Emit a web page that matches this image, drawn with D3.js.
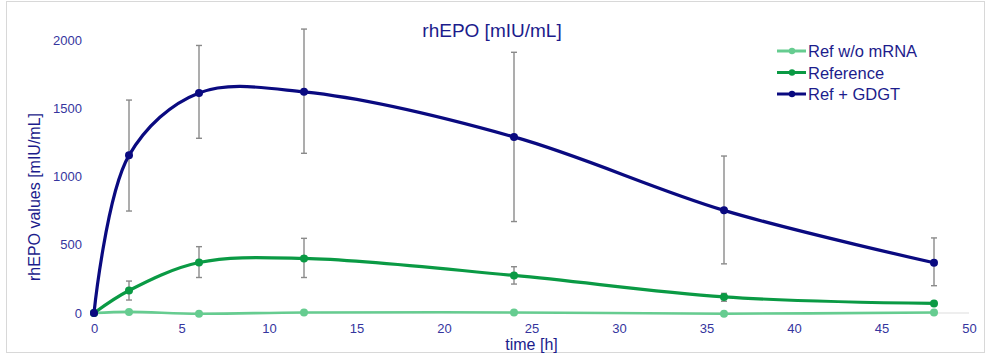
<!DOCTYPE html>
<html>
<head>
<meta charset="utf-8">
<script src="https://cdn.jsdelivr.net/npm/d3@7"></script>
<style>
  body { margin: 0; background: #fff; }
  text { font-family: "Liberation Sans", Arial, sans-serif; }
</style>
</head>
<body>
<div id="chart"></div>
<script>
// time points (h)
var times = [0, 2, 6, 12, 24, 36, 48];
var seriesNames = ["Ref w/o mRNA", "Reference", "Ref + GDGT"];
var noMrna = [0, 8, -5, 4, 4, -5, 4];
var reference = [0, 165, 370, 400, 275, 118, 70];
var refLow = [null, 95, 260, 260, 212, 86, null];
var refHigh = [null, 234, 486, 547, 339, 144, null];
var gdgt = [0, 1155, 1612, 1620, 1290, 752, 368];
var gdgtLow = [null, 747, 1280, 1170, 670, 360, 200];
var gdgtHigh = [null, 1560, 1960, 2080, 1910, 1150, 550];
var xTicks = [0, 5, 10, 15, 20, 25, 30, 35, 40, 45, 50];
var yTicks = [0, 500, 1000, 1500, 2000];

var colors = ["#66cc90", "#0a9a44", "#0a0a80"];
var svgWidth = 987, svgHeight = 360;
var margin = { top: 40, right: 18, bottom: 47, left: 94 };
var width = svgWidth - margin.left - margin.right;
var height = svgHeight - margin.top - margin.bottom;

var svg = d3.select("#chart").append("svg")
  .attr("width", svgWidth)
  .attr("height", svgHeight);

// outer frame
svg.append("rect")
  .attr("x", 6.5).attr("y", 1.5)
  .attr("width", 978).attr("height", 351)
  .attr("fill", "none")
  .attr("stroke", "#d8d8d8");

var x = d3.scaleLinear().domain([0, 50]).range([0, width]);
var y = d3.scaleLinear().domain([0, 2000]).range([height, 0]);

var g = svg.append("g")
  .attr("transform", "translate(" + margin.left + "," + margin.top + ")");

// baseline
g.append("line")
  .attr("x1", x(0)).attr("x2", x(50))
  .attr("y1", y(0)).attr("y2", y(0))
  .attr("stroke", "#dddddd");

// axis-x
var xAxis = g.append("g")
  .attr("transform", "translate(0," + height + ")")
  .call(d3.axisBottom(x).tickValues(xTicks).tickSize(0).tickPadding(11));
xAxis.select(".domain").remove();

// axis-y
var yAxis = g.append("g")
  .call(d3.axisLeft(y).tickValues(yTicks).tickFormat(d3.format("d")).tickSize(0).tickPadding(12));
yAxis.select(".domain").remove();

g.selectAll(".tick text")
  .attr("font-size", "13px")
  .attr("fill", "#35359e")
  .attr("font-family", "Liberation Sans, Arial, sans-serif");

// titles
svg.append("text")
  .attr("x", 492).attr("y", 37)
  .attr("text-anchor", "middle")
  .attr("font-size", "19px")
  .attr("fill", "#1c1c8c")
  .text("rhEPO [mIU/mL]");

svg.append("text")
  .attr("x", margin.left + width / 2).attr("y", 350)
  .attr("text-anchor", "middle")
  .attr("font-size", "16px")
  .attr("fill", "#1c1c8c")
  .text("time [h]");

svg.append("text")
  .attr("transform", "translate(40,197) rotate(-90)")
  .attr("text-anchor", "middle")
  .attr("font-size", "16px")
  .attr("fill", "#1c1c8c")
  .text("rhEPO values [mIU/mL]");

// error bars
function errorBars(low, high) {
  var idx = times.map(function (d, i) { return i; })
    .filter(function (i) { return low[i] != null; });
  var eb = g.append("g").attr("stroke", "#8a8a8a").attr("stroke-width", 1.4);
  idx.forEach(function (i) {
    var cx = x(times[i]);
    eb.append("line").attr("x1", cx).attr("x2", cx)
      .attr("y1", y(low[i])).attr("y2", y(high[i]));
    eb.append("line").attr("x1", cx - 3).attr("x2", cx + 3)
      .attr("y1", y(low[i])).attr("y2", y(low[i]));
    eb.append("line").attr("x1", cx - 3).attr("x2", cx + 3)
      .attr("y1", y(high[i])).attr("y2", y(high[i]));
  });
}
errorBars(gdgtLow, gdgtHigh);
errorBars(refLow, refHigh);

// lines
var line = d3.line()
  .x(function (d) { return x(d[0]); })
  .y(function (d) { return y(d[1]); })
  .curve(d3.curveCatmullRom.alpha(0.5));

var allSeries = [noMrna, reference, gdgt];
allSeries.forEach(function (vals, k) {
  var pts = times.map(function (t, i) { return [t, vals[i]]; });
  g.append("path")
    .attr("d", line(pts))
    .attr("fill", "none")
    .attr("stroke", colors[k])
    .attr("stroke-width", k === 0 ? 2.6 : 3.2);
  g.selectAll(".dot" + k)
    .data(pts)
    .enter().append("circle")
    .attr("cx", function (d) { return x(d[0]); })
    .attr("cy", function (d) { return y(d[1]); })
    .attr("r", 4)
    .attr("fill", colors[k]);
});

// legend
var legend = svg.append("g").attr("transform", "translate(777,51)");
seriesNames.forEach(function (name, k) {
  var row = legend.append("g").attr("transform", "translate(0," + (k * 21.5) + ")");
  row.append("line").attr("x1", 0).attr("x2", 29).attr("y1", 0).attr("y2", 0)
    .attr("stroke", colors[k]).attr("stroke-width", 3);
  row.append("circle").attr("cx", 15).attr("cy", 0).attr("r", 3.2).attr("fill", colors[k]);
  row.append("text").attr("x", 31).attr("y", 6)
    .attr("font-size", "16.5px")
    .attr("fill", "#1c1c8c")
    .text(name);
});
</script>
</body>
</html>
